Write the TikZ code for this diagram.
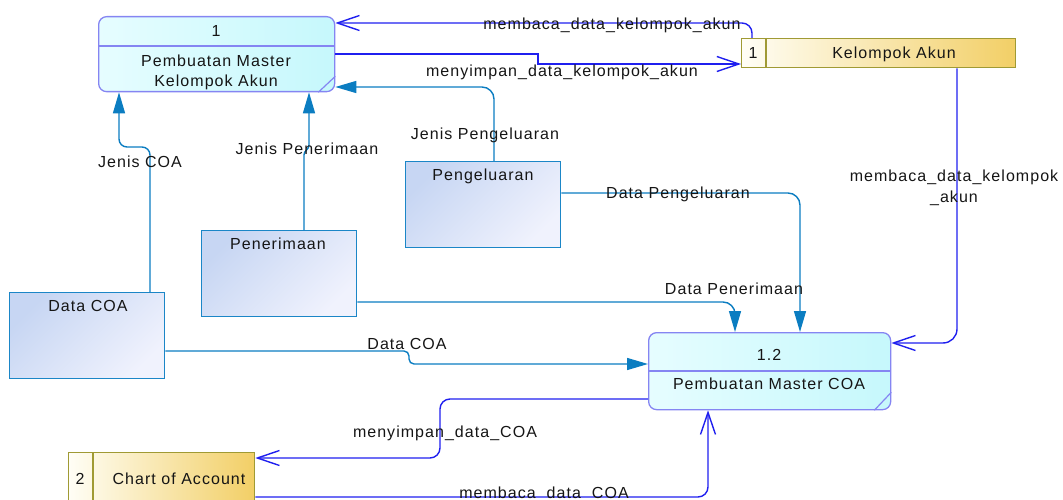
\documentclass[tikz,border=0pt]{standalone}
\usepackage{fontspec}
\setmainfont{Liberation Sans}[LetterSpace=6.5]
\usetikzlibrary{arrows.meta}

\definecolor{flowc}{HTML}{0B7DC1}
\definecolor{storec}{HTML}{1F1FEF}
\definecolor{procline}{HTML}{8585F2}
\definecolor{procA}{HTML}{E6FDFF}
\definecolor{procB}{HTML}{C6F8FC}
\definecolor{entline}{HTML}{1B86C7}
\definecolor{entA}{HTML}{C7D6F3}
\definecolor{entB}{HTML}{F0F2FD}
\definecolor{storeline}{HTML}{A09A34}
\definecolor{storeA}{HTML}{FFFEF6}
\definecolor{storeB}{HTML}{F2CF66}
\definecolor{txt}{HTML}{151515}

\begin{document}
\begin{tikzpicture}[x=1pt, y=-1pt,
  font=\fontsize{16}{19}\selectfont,
  proc/.style={draw=procline, line width=1.3pt, rounded corners=8pt,
    left color=procA, right color=procB, anchor=north west, inner sep=0pt},
  entity/.style={draw=entline, line width=1.3pt, top color=entB, bottom color=entA,
    shading angle=-135, anchor=north west, inner sep=0pt},
  store/.style={draw=storeline, line width=1.3pt, left color=storeA, right color=storeB,
    anchor=north west, inner sep=0pt},
  lbl/.style={inner sep=0pt, text height=11.5pt, text depth=0pt, text=txt},
  flow/.style={draw=flowc, line width=1.4pt, -{Triangle[length=21pt,width=12pt]}},
  dflow/.style={draw=storec, line width=1.4pt, -{Straight Barb[length=22pt,width=15pt]}},
  divider/.style={draw=procline, line width=1.2pt},
  sdivider/.style={draw=storeline, line width=1.2pt}]

\useasboundingbox (0,0) rectangle (1063,500);

% processes
\node[proc, minimum width=236pt, minimum height=75pt] (p1) at (98,16) {};
\node[proc, minimum width=242pt, minimum height=77pt] (p12) at (648,332) {};
\draw[divider] (p1.west |- 0,46) -- (p1.east |- 0,46);
\draw[divider] (p12.west |- 0,371) -- (p12.east |- 0,371);
\draw[divider] ([xshift=-17pt]p1.south east) -- ([yshift=16pt]p1.south east);
\draw[divider] ([xshift=-17pt]p12.south east) -- ([yshift=18pt]p12.south east);
\node[lbl] (p1num) at (216,31) {1};
\node[lbl] (p1t1) at (216,61) {Pembuatan Master};
\node[lbl] (p1t2) at (216,81) {Kelompok Akun};
\node[lbl] (p12num) at (769,355) {1.2};
\node[lbl] (p12t) at (769,384) {Pembuatan Master COA};

% data stores
\node[store, minimum width=274pt, minimum height=29pt] (ka) at (741,38) {};
\draw[sdivider] (ka.north -| 766,0) -- (ka.south -| 766,0);
\node[lbl] (kanum) at (753,53) {1};
\node[lbl] (kat) at (894,53) {Kelompok Akun};
\node[store, minimum width=186pt, minimum height=60pt] (coa) at (68,452) {};
\draw[sdivider] (coa.north -| 93,0) -- (coa.south -| 93,0);
\node[lbl] (coanum) at (80,479) {2};
\node[lbl] (coat) at (179,479) {Chart of Account};

% external entities
\node[entity, minimum width=155pt, minimum height=86pt] (dcoa) at (9,292) {};
\node[lbl] at (88,306) {Data COA};
\node[entity, minimum width=155pt, minimum height=86pt] (pen) at (201,230) {};
\node[lbl] at (278,244) {Penerimaan};
\node[entity, minimum width=155pt, minimum height=86pt] (peng) at (405,161) {};
\node[lbl] at (483,175) {Pengeluaran};

% flows from the entities
\draw[flow, rounded corners=8pt] (150,0 |- dcoa.north) |- (119,147) -- (119,0 |- p1.south);
\draw[flow, rounded corners=3pt] (304,0 |- pen.north) -- (304,152) -- (309,148) -- (309,0 |- p1.south);
\draw[flow, rounded corners=12pt] (494,0 |- peng.north) |- (p1.east |- 0,87);
\draw[flow, rounded corners=12pt] (peng.east |- 0,193) -| (800,0 |- p12.north);
\draw[flow, rounded corners=12pt] (pen.east |- 0,302) -| (735,0 |- p12.north);
\draw[flow, rounded corners=5pt] (dcoa.east |- 0,351) -- (409,351) -- (409,364) -- (p12.west |- 0,364);

% flows to and from the data stores
\draw[dflow, rounded corners=10pt] (752,0 |- ka.north) |- (p1.east |- 0,23);
\draw[dflow] (p1.east |- 0,54) -- (538,54) -- (538,64) -- (ka.west |- 0,64);
\draw[dflow, rounded corners=14pt] (957,0 |- ka.south) |- (p12.east |- 0,343);
\draw[dflow, rounded corners=10pt] (p12.west |- 0,399) -- (440,399) -- (440,458) -- (coa.east |- 0,458);
\draw[dflow, rounded corners=10pt] (coa.east |- 0,497) -| (708,0 |- p12.south);

% flow labels
\node[lbl] at (140,162) {Jenis COA};
\node[lbl] at (307,149) {Jenis Penerimaan};
\node[lbl] at (485,134) {Jenis Pengeluaran};
\node[lbl] at (678,193) {Data Pengeluaran};
\node[lbl] at (734,289) {Data Penerimaan};
\node[lbl] at (407,344) {Data COA};
\node[lbl] at (612,24) {membaca\_data\_kelompok\_akun};
\node[lbl] at (562,71) {menyimpan\_data\_kelompok\_akun};
\node[lbl] at (954,176) {membaca\_data\_kelompok};
\node[lbl] at (954,197) {\_akun};
\node[lbl] at (445,432) {menyimpan\_data\_COA};
\node[lbl] at (544,493) {membaca\_data\_COA};
\end{tikzpicture}
\end{document}
